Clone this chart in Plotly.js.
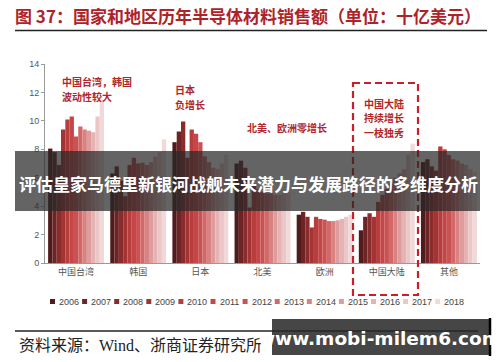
<!DOCTYPE html>
<html><head><meta charset="utf-8">
<script src="https://cdn.plot.ly/plotly-3.0.1.min.js"></script>
<style>html,body{margin:0;padding:0;background:#fff;}#c{width:500px;height:362px;}</style>
</head><body><div id="c"></div>
<script>
const regions = ['中国台湾','韩国','日本','北美','欧洲','中国大陆','其他'];
const years = ['2006','2007','2008','2009','2010','2011','2012','2013','2014','2015','2016','2017','2018'];
const yearColors = ['#4f1b1b','#6e2424','#8a2c2c','#a43434','#b83e3e','#c44646','#cb5252','#d26868','#d98282','#df9c9c','#e5b3b3','#ebc7c7','#f1d9d9'];
const taiwan   = [8.05,7.8,6.9,9.4,10.1,10.3,8.9,9.6,9.4,9.3,9.2,10.3,11.5];
const korea    = [6.3,6.8,5.8,4.7,6.9,7.4,7.0,7.05,6.9,7.1,7.5,7.8,8.7];
const japan    = [8.5,9.25,9.95,7.4,9.4,9.1,8.5,7.5,7.1,6.7,6.6,7.0,7.6];
const northAm  = [7.0,7.2,6.7,3.9,5.5,5.2,5.0,4.9,4.9,4.8,4.8,4.9,5.2];
const europe   = [3.4,3.6,3.25,2.5,3.25,3.1,3.05,2.95,2.95,3.0,3.1,3.25,3.4];
const china    = [2.3,3.25,3.5,3.25,4.3,4.8,5.2,5.6,6.0,6.3,6.6,7.6,8.4];
const others   = [7.1,7.3,6.8,6.5,8.2,8.0,7.6,7.3,7.2,7.0,6.9,6.6,6.4];
const yTicks = [0,2,4,6,8,10,12,14];

const byRegion = [taiwan,korea,japan,northAm,europe,china,others];
const CJK = '"Noto Sans CJK SC", "Noto Sans", sans-serif';
const L=45,R=480,T=64,B=263;
const px = x => (x-L)/(R-L);
const py = y => (B-y)/(B-T);

const traces = years.map((yr,i)=>({
  type:'bar', name:yr, x:regions, y:byRegion.map(r=>r[i]),
  marker:{color:yearColors[i], line:{width:0}}, showlegend:false, hoverinfo:'skip'
}));

const shapes = [
  {type:'line',xref:'paper',yref:'paper',x0:px(15),x1:px(487),y0:py(30.5),y1:py(30.5),line:{color:'#222',width:1.3}},
  {type:'line',xref:'paper',yref:'paper',x0:px(15),x1:px(478),y0:py(331),y1:py(331),line:{color:'#222',width:1.3}},
  {type:'rect',xref:'paper',yref:'paper',x0:px(353),x1:px(418),y0:py(83),y1:py(295),line:{color:'#c8202a',width:2.2,dash:'7px,4px'},fillcolor:'rgba(0,0,0,0)',layer:'above'},
  {type:'rect',xref:'paper',yref:'paper',x0:px(15),x1:px(480),y0:py(151),y1:py(211),line:{width:0},fillcolor:'rgba(40,40,40,0.72)',layer:'above'},
  {type:'rect',xref:'paper',yref:'paper',x0:px(272),x1:px(490),y0:py(319),y1:py(355),line:{width:0},fillcolor:'rgba(40,40,40,0.86)',layer:'above'},
  {type:'line',xref:'paper',yref:'paper',x0:px(490),x1:px(490),y0:py(318),y1:py(356),line:{color:'#000',width:2.5},layer:'above'}
];
const annotations = [];
years.forEach((yr,i)=>{
  const x = 50 + i*32.1;
  shapes.push({type:'rect',xref:'paper',yref:'paper',x0:px(x),x1:px(x+5),y0:py(299),y1:py(304),line:{width:0},fillcolor:yearColors[i]});
  annotations.push({xref:'paper',yref:'paper',x:px(x+7),y:py(301.5),xanchor:'left',yanchor:'middle',showarrow:false,text:yr,font:{family:'"Liberation Sans", Arial, sans-serif',size:9,color:'#444'}});
});
const red = '#b0262c';
const noteLines = [
  ['中国台湾，韩国',60,82],['波动性较大',60,96.5],
  ['日本',173,89],['负增长',173,104],
  ['北美、欧洲零增长',245,127],
  ['中国大陆',362,103],['持续增长',362,117.5],['一枝独秀',362,132]
];
noteLines.forEach(([t,x,y])=>annotations.push({xref:'paper',yref:'paper',x:px(x),y:py(y),xanchor:'left',yanchor:'middle',showarrow:false,text:'<b>'+t+'</b>',font:{family:CJK,size:10,color:red}}));
annotations.push(
  {xref:'paper',yref:'paper',x:px(248),y:py(183),xanchor:'center',yanchor:'middle',showarrow:false,text:'<b>评估皇家马德里新银河战舰未来潜力与发展路径的多维度分析</b>',font:{family:CJK,size:17,color:'#ffffff'}},
  {xref:'paper',yref:'paper',x:px(17),y:py(345),xanchor:'left',yanchor:'middle',showarrow:false,text:'资料来源：Wind、浙商证券研究所',font:{family:'"Liberation Serif", "Noto Sans CJK SC", serif',size:16,color:'#222'}},
  {xref:'paper',yref:'paper',x:px(379),y:py(338),xanchor:'center',yanchor:'middle',showarrow:false,text:'<b>www.mobi-milem6.com</b>',font:{family:'"DejaVu Sans", sans-serif',size:18.5,color:'#ffffff'}}
);

const layout = {
  width:500,height:362,
  margin:{l:L,r:500-R,t:T,b:362-B,pad:0},
  paper_bgcolor:'#fff',plot_bgcolor:'#fff',
  title:{text:'<b>图 37：国家和地区历年半导体材料销售额（单位：十亿美元）</b>',x:0.03,xanchor:'left',xref:'container',y:1-17/362,yanchor:'middle',yref:'container',font:{family:CJK,size:17,color:'#ad2329'}},
  barmode:'group',bargap:0.1,bargroupgap:0,
  xaxis:{showline:true,linecolor:'#999',linewidth:1,ticks:'',showgrid:false,zeroline:false,
    tickfont:{family:CJK,size:9,color:'#555'},fixedrange:true},
  yaxis:{range:[0,14],tickvals:yTicks,showline:true,linecolor:'#999',linewidth:1,ticks:'outside',ticklen:3,tickcolor:'#999',
    showgrid:false,zeroline:false,tickfont:{family:'"Liberation Sans", Arial, sans-serif',size:9,color:'#555'},fixedrange:true},
  shapes:shapes,annotations:annotations,showlegend:false
};
Plotly.newPlot('c',traces,layout,{staticPlot:true,displayModeBar:false});
</script></body></html>
